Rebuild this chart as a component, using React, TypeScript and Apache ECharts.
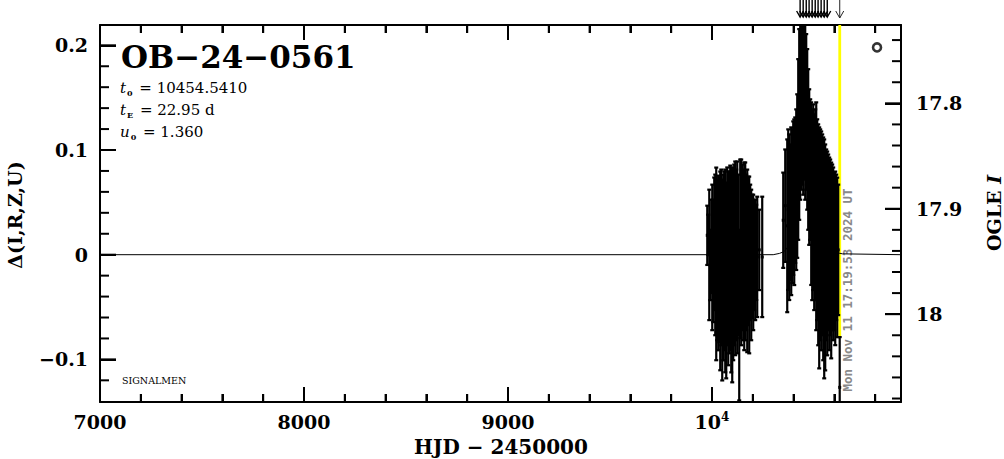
import React, { useEffect, useRef } from "react";
import * as echarts from "echarts";

// ---------- axis ranges ----------
const hjdMin = 7000;
const hjdMax = 10926.5;
const deltaMin = -0.1407;
const deltaMax = 0.2194;
const magTop = 17.7257;
const magBottom = 18.0833;

// ---------- tick positions ----------
const xMajorTicks = [7000, 8000, 9000, 10000];
const xMinorTicks = [7200, 7400, 7600, 7800, 8200, 8400, 8600, 8800, 9200, 9400, 9600, 9800, 10200, 10400, 10600, 10800];
const deltaMajorTicks = [-0.1, 0, 0.1, 0.2];
const deltaMinorTicks = [-0.12, -0.08, -0.06, -0.04, -0.02, 0.02, 0.04, 0.06, 0.08, 0.12, 0.14, 0.16, 0.18];
const magMajorTicks = [17.8, 17.9, 18.0];
const magMinorTicks = [17.74, 17.76, 17.78, 17.82, 17.84, 17.86, 17.88, 17.92, 17.94, 17.96, 17.98, 18.02, 18.04, 18.06, 18.08];

// ---------- texts ----------
const eventName = "OB\u221224\u22120561";
const paramLines = [
  "{i|t}{s|0} = 10454.5410",
  "{i|t}{s|E} = 22.95 d",
  "{i|u}{s|0} = 1.360",
];
const surveyTag = "SIGNALMEN";
const timestamp = "Mon Nov 11 17:19:53 2024 UT";
const xName = "HJD \u2212 2450000";
const yLeftName = "\u0394(I,R,Z,U)";

// ---------- observations (HJD-2450000, delta mag, error) ----------
const obsHjd = [
  // 2023/24 season
  9976.8, 9981.7, 9986.6, 9991.5, 9996.4, 10001.3, 10006.2, 10011.0, 10015.9, 10020.8,
  10025.7, 10030.6, 10035.5, 10040.4, 10045.3, 10050.2, 10055.1, 10060.0, 10064.9, 10069.8,
  10074.7, 10079.6, 10084.5, 10089.4, 10094.3, 10099.2, 10104.1, 10109.0, 10113.9, 10118.8,
  10123.7, 10128.6, 10133.5, 10138.4, 10143.3, 10148.2, 10153.1, 10158.0, 10162.9, 10167.8,
  10172.7, 10177.6, 10182.5, 10187.4, 10192.3, 10197.2, 10202.1, 10207.0, 10211.9, 10216.8,
  10221.7, 10231.5, 10246.2,
  // 2024 season
  10349.2, 10359.0, 10368.8, 10373.7, 10378.6, 10383.5, 10388.4, 10393.3, 10398.2, 10403.1,
  10408.0, 10412.9, 10417.8, 10422.7, 10427.6, 10432.5, 10437.4, 10442.3, 10447.2, 10452.1,
  10457.0, 10461.9, 10466.8, 10471.7, 10476.6, 10481.5, 10486.4, 10491.3, 10496.2, 10501.1,
  10506.0, 10510.9, 10515.8, 10520.7, 10525.6, 10530.5, 10535.4, 10540.3, 10545.2, 10550.1,
  10555.0, 10559.9, 10564.8, 10569.7, 10574.6, 10579.5, 10584.4, 10589.3, 10594.2, 10599.1,
  10604.0, 10608.9, 10613.8, 10618.7, 10626.0,
];
const obsDelta = [
  0.0185, 0.019, -0.0002, -0.0098, 0.008, -0.0026, -0.0059, 0.0104, -0.0002, -0.0088,
  -0.005, -0.0079, -0.005, -0.0155, -0.0026, -0.0242, -0.0122, -0.0059, -0.0155, -0.0246,
  -0.0016, -0.0131, -0.0074, -0.0031, -0.0146, -0.0203, -0.0088, -0.0002, -0.0035, -0.0002,
  -0.0026, -0.0002, -0.0577, 0.0056, 0.0022, 0.007, -0.0002, -0.0016, 0.0032, 0.0022,
  -0.0059, 0.0036, -0.0098, 0.0022, -0.0098, -0.0016, -0.0074, -0.0002, -0.005, 0.0022,
  -0.0021, 0.0046, -0.0021,
  0.0329, 0.0468, 0.0276, 0.043, 0.0358, 0.0406, 0.0415, 0.0463, 0.054, 0.0501,
  0.0616, 0.0621, 0.0751, 0.1005, 0.1244, 0.1412, 0.1412, 0.1508, 0.1412, 0.1556,
  0.1364, 0.1364, 0.1197, 0.1005, 0.0837, 0.0813, 0.0583, 0.0477, 0.0549, 0.0406,
  0.0477, 0.0367, 0.0334, 0.019, 0.0065, 0.019, 0.0132, 0.019, 0.0056, -0.004,
  -0.0026, 0.0094, 0.0012, 0.0118, 0.0008, 0.007, -0.0055, 0.007, 0.0008, 0.0032,
  -0.0035, 0.007, -0.0026, 0.0046, -0.1267,
];
const obsSigma = [
  0.0283, 0.0192, 0.0623, 0.0336, 0.0446, 0.0695, 0.0585, 0.0633, 0.0767, 0.092,
  0.0767, 0.0834, 0.0786, 0.0949, 0.0839, 0.0959, 0.0887, 0.0853, 0.0968, 0.0935,
  0.0849, 0.0925, 0.0868, 0.0882, 0.0978, 0.1016, 0.092, 0.0863, 0.0925, 0.0815,
  0.0916, 0.0767, 0.0815, 0.0853, 0.0887, 0.0791, 0.0815, 0.0896, 0.0849, 0.0743,
  0.0872, 0.0709, 0.0844, 0.0647, 0.0719, 0.059, 0.0647, 0.0527, 0.0575, 0.0455,
  0.0575, 0.0384, 0.0575,
  0.0455, 0.0537, 0.0825, 0.0767, 0.0791, 0.0647, 0.0801, 0.0733, 0.0733, 0.0791,
  0.0695, 0.0767, 0.0781, 0.0863, 0.0911, 0.0887, 0.0791, 0.0839, 0.0839, 0.0839,
  0.0839, 0.0743, 0.0767, 0.0767, 0.0743, 0.0671, 0.0872, 0.0911, 0.0887, 0.0935,
  0.0911, 0.1088, 0.0959, 0.1055, 0.1151, 0.1007, 0.1045, 0.0959, 0.1064, 0.1141,
  0.1079, 0.0911, 0.0973, 0.0839, 0.092, 0.0839, 0.0935, 0.0791, 0.0825, 0.0753,
  0.0829, 0.0695, 0.0762, 0.0623, 0.048,
];

// ---------- model curve ----------
const modelHjd = [7000, 10300, 10330, 10354, 10390, 10410, 10425, 10440, 10454.5, 10470, 10485, 10500, 10520, 10560, 10640, 10926.5];
const modelDelta = [0, 0, 0.0012, 0.003, 0.012, 0.03, 0.06, 0.1, 0.122, 0.1, 0.06, 0.03, 0.012, 0.004, 0.0008, 0];

// ---------- markers ----------
const alertHjd = [10432, 10447, 10462, 10476, 10491, 10506, 10520, 10535, 10550, 10565];
const nowHjd = 10626.2;
const openMarker = [10809, 0.198];

// ---------- styling ----------
const SERIF = "DejaVu Serif";
const BLACK = "#000";
const labelFont = { fontFamily: SERIF, fontWeight: "bold" as const, fontSize: 19, color: BLACK };
const MAJOR_LEN = 15;
const MINOR_LEN = 8;

const isTenth = (v: number) => Math.abs(v * 10 - Math.round(v * 10)) < 1e-6;

function fmtX(v: number) {
  if (Math.abs(v - Math.round(v / 1000) * 1000) > 1e-6) return "";
  if (Math.round(v) === 10000) return "{m|10}{s|4}";
  return "{m|" + Math.round(v) + "}";
}
function fmtDelta(v: number) {
  if (!isTenth(v)) return "";
  const r = Math.round(v * 10) / 10;
  if (r === 0) return "0";
  return (r < 0 ? "\u2212" : "") + Math.abs(r).toString();
}
function fmtMag(v: number) {
  if (!isTenth(v)) return "";
  const r = Math.round(v * 10) / 10;
  return Number.isInteger(r) ? String(r) : r.toFixed(1);
}

function textGraphics(): any[] {
  return [
    {
      type: "text",
      silent: true,
      x: 121,
      y: 57,
      style: {
        text: eventName,
        fill: BLACK,
        fontFamily: SERIF,
        fontWeight: "bold",
        fontSize: 31,
        align: "left",
        verticalAlign: "middle",
      },
    },
    ...paramLines.map((line, i) => ({
      type: "text",
      silent: true,
      x: 120,
      y: 88 + i * 22,
      style: {
        text: line,
        fill: BLACK,
        fontFamily: SERIF,
        fontSize: 15,
        align: "left",
        verticalAlign: "middle",
        rich: {
          i: { fontFamily: SERIF, fontSize: 15, fontStyle: "italic", fill: BLACK, lineHeight: 18 },
          s: { fontFamily: SERIF, fontSize: 8, fontWeight: "bold", fill: BLACK, lineHeight: 18, verticalAlign: "bottom", padding: [0, 2, 0, 1] },
        },
      },
    })),
    {
      type: "text",
      silent: true,
      x: 122,
      y: 380,
      style: { text: surveyTag, fill: BLACK, fontFamily: SERIF, fontSize: 9.5, align: "left", verticalAlign: "middle" },
    },
    {
      type: "text",
      silent: true,
      x: 501,
      y: 447,
      style: { text: xName, fill: BLACK, fontFamily: SERIF, fontWeight: "bold", fontSize: 20, align: "center", verticalAlign: "middle" },
    },
    {
      type: "text",
      silent: true,
      x: 15,
      y: 215,
      rotation: Math.PI / 2,
      style: { text: yLeftName, fill: BLACK, fontFamily: SERIF, fontWeight: "bold", fontSize: 19, align: "center", verticalAlign: "middle" },
    },
    {
      type: "text",
      silent: true,
      x: 994,
      y: 213,
      rotation: Math.PI / 2,
      style: {
        text: "{n|OGLE }{i|I}",
        fill: BLACK,
        align: "center",
        verticalAlign: "middle",
        rich: {
          n: { fontFamily: SERIF, fontWeight: "bold", fontSize: 19, fill: BLACK },
          i: { fontFamily: SERIF, fontWeight: "bold", fontStyle: "italic", fontSize: 19, fill: BLACK },
        },
      },
    },
    {
      type: "text",
      silent: true,
      x: 847,
      y: 290,
      rotation: Math.PI / 2,
      style: {
        text: timestamp,
        fill: "#8a8a8a",
        fontFamily: "DejaVu Sans Mono",
        fontWeight: "bold",
        fontSize: 12.5,
        align: "center",
        verticalAlign: "middle",
      },
    },
  ];
}

function buildOption(): any {
  const obsData = obsHjd.map((t, i) => [t, obsDelta[i], obsSigma[i]]);
  const modelData = modelHjd.map((t, i) => [t, modelDelta[i]]);
  const lastTop = obsDelta[obsDelta.length - 1] + obsSigma[obsSigma.length - 1];

  const mkLine = () => ({ show: true, onZero: false, lineStyle: { color: BLACK, width: 2 } });
  const mkTick = (len: number) => ({ show: true, inside: true, length: len, lineStyle: { color: BLACK, width: 2 } });

  const xBase = () => ({
    type: "value",
    gridIndex: 0,
    min: hjdMin,
    max: hjdMax,
    interval: 1000,
    axisLine: mkLine(),
    axisTick: mkTick(MAJOR_LEN),
    minorTick: { show: true, splitNumber: 5, length: MINOR_LEN, lineStyle: { color: BLACK, width: 2 } },
    splitLine: { show: false },
  });

  return {
    animation: false,
    backgroundColor: "#fff",
    textStyle: { fontFamily: SERIF },
    grid: { left: 100, top: 25, width: 801, height: 377, containLabel: false },
    xAxis: [
      {
        ...xBase(),
        position: "bottom",
        axisLabel: {
          margin: 9,
          showMaxLabel: false,
          formatter: fmtX,
          rich: {
            m: { ...labelFont, lineHeight: 22 },
            s: { ...labelFont, fontSize: 12, lineHeight: 14, verticalAlign: "top" },
          },
        },
      },
      { ...xBase(), position: "top", axisLabel: { show: false } },
    ],
    yAxis: [
      {
        type: "value",
        position: "left",
        min: deltaMin,
        max: deltaMax,
        minInterval: 0.1,
        maxInterval: 0.1,
        splitNumber: 4,
        axisLine: mkLine(),
        axisTick: mkTick(MAJOR_LEN + 1),
        minorTick: { show: false },
        splitLine: { show: false },
        axisLabel: { ...labelFont, margin: 12, formatter: fmtDelta, showMinLabel: false, showMaxLabel: false },
      },
      {
        type: "value",
        position: "right",
        inverse: true,
        min: magTop,
        max: magBottom,
        minInterval: 0.1,
        maxInterval: 0.1,
        splitNumber: 4,
        axisLine: mkLine(),
        axisTick: mkTick(MAJOR_LEN + 1),
        minorTick: { show: false },
        splitLine: { show: false },
        axisLabel: { ...labelFont, margin: 15, formatter: fmtMag, showMinLabel: false, showMaxLabel: false },
      },
    ],
    series: [
      {
        type: "custom",
        name: "now",
        silent: true,
        z: 1,
        clip: true,
        data: [[nowHjd, lastTop]],
        renderItem: (_p: any, api: any) => {
          const t = api.value(0);
          const a = api.coord([t, deltaMax]);
          const b = api.coord([t, api.value(1)]);
          return {
            type: "line",
            shape: { x1: a[0], y1: a[1], x2: b[0], y2: b[1] },
            style: { stroke: "#ffff00", lineWidth: 2.8 },
          };
        },
      },
      {
        type: "line",
        name: "model",
        silent: true,
        z: 2,
        data: modelData,
        showSymbol: false,
        symbol: "none",
        clip: true,
        lineStyle: { color: BLACK, width: 1 },
      },
      {
        type: "custom",
        name: "obs",
        silent: true,
        z: 3,
        clip: true,
        data: obsData,
        renderItem: (_p: any, api: any) => {
          const t = api.value(0);
          const d = api.value(1);
          const s = api.value(2);
          const hi = api.coord([t, d + s]);
          const lo = api.coord([t, d - s]);
          const mid = api.coord([t, d]);
          const st = { stroke: BLACK, lineWidth: 2.2 };
          return {
            type: "group",
            children: [
              { type: "line", shape: { x1: hi[0], y1: hi[1], x2: lo[0], y2: lo[1] }, style: st },
              { type: "line", shape: { x1: hi[0] - 2, y1: hi[1], x2: hi[0] + 2, y2: hi[1] }, style: st },
              { type: "line", shape: { x1: lo[0] - 2, y1: lo[1], x2: lo[0] + 2, y2: lo[1] }, style: st },
              { type: "rect", shape: { x: mid[0] - 1.5, y: mid[1] - 1.5, width: 3, height: 3 }, style: { fill: BLACK } },
            ],
          };
        },
      },
      {
        type: "scatter",
        name: "marker",
        silent: true,
        z: 4,
        data: [openMarker],
        symbol: "circle",
        symbolSize: 8,
        itemStyle: { color: "#fff", borderColor: BLACK, borderWidth: 2.6 },
      },
      {
        type: "custom",
        name: "alerts",
        silent: true,
        z: 5,
        clip: false,
        data: alertHjd.map((t) => [t, deltaMax]),
        renderItem: (_p: any, api: any) => {
          const p = api.coord([api.value(0), deltaMax]);
          const x = p[0];
          const y = p[1];
          const st = { stroke: BLACK, lineWidth: 1.4, fill: "none" };
          return {
            type: "group",
            children: [
              { type: "line", shape: { x1: x, y1: y - 26, x2: x, y2: y - 8 }, style: st },
              { type: "polyline", shape: { points: [[x - 3.5, y - 14], [x, y - 8], [x + 3.5, y - 14]] }, style: st },
            ],
          };
        },
      },
      {
        type: "custom",
        name: "nowArrow",
        silent: true,
        z: 5,
        clip: false,
        data: [[nowHjd, deltaMax]],
        renderItem: (_p: any, api: any) => {
          const p = api.coord([api.value(0), deltaMax]);
          const x = p[0];
          const y = p[1];
          const st = { stroke: "#222", lineWidth: 1, fill: "none" };
          return {
            type: "group",
            children: [
              { type: "line", shape: { x1: x, y1: y - 26, x2: x, y2: y - 7 }, style: st },
              { type: "polyline", shape: { points: [[x - 4, y - 14], [x, y - 7], [x + 4, y - 14]] }, style: st },
            ],
          };
        },
      },
    ],
    graphic: textGraphics(),
  };
}

// minor/major tick marks placed through the chart's own axis scales
function tickGraphics(chart: any): any[] {
  const out: any[] = [];
  const line = (x1: number, y1: number, x2: number, y2: number) => ({
    type: "line",
    silent: true,
    z: 20,
    shape: { x1, y1, x2, y2 },
    style: { stroke: BLACK, lineWidth: 2 },
  });
  const toPx = (yAxisIndex: number, pt: number[]) =>
    chart.convertToPixel({ xAxisIndex: 0, yAxisIndex }, pt) as number[];

  const xTicks: [number, number][] = [
    ...xMajorTicks.map((v) => [v, MAJOR_LEN] as [number, number]),
    ...xMinorTicks.map((v) => [v, MINOR_LEN] as [number, number]),
  ];
  xTicks.forEach(([v, len]) => {
    const b = toPx(0, [v, deltaMin]);
    const t = toPx(0, [v, deltaMax]);
    if (b && t) {
      out.push(line(b[0], b[1], b[0], b[1] - len));
      out.push(line(t[0], t[1], t[0], t[1] + len));
    }
  });
  const dTicks: [number, number][] = [
    ...deltaMajorTicks.map((v) => [v, MAJOR_LEN + 1] as [number, number]),
    ...deltaMinorTicks.map((v) => [v, MINOR_LEN + 1] as [number, number]),
  ];
  dTicks.forEach(([v, len]) => {
    const p = toPx(0, [hjdMin, v]);
    if (p) out.push(line(p[0], p[1], p[0] + len, p[1]));
  });
  const mTicks: [number, number][] = [
    ...magMajorTicks.map((v) => [v, MAJOR_LEN + 1] as [number, number]),
    ...magMinorTicks.map((v) => [v, MINOR_LEN + 1] as [number, number]),
  ];
  mTicks.forEach(([v, len]) => {
    let p: number[] | null = null;
    try {
      p = toPx(1, [hjdMax, v]);
    } catch (e) {
      p = null;
    }
    if (p) out.push(line(p[0], p[1], p[0] - len, p[1]));
  });
  return out;
}

export default function App() {
  const ref = useRef<HTMLDivElement>(null);
  useEffect(() => {
    if (!ref.current) return;
    const chart = echarts.init(ref.current, undefined, { renderer: "svg" });
    chart.setOption(buildOption());
    let ticks: any[] = [];
    try {
      ticks = tickGraphics(chart);
    } catch (e) {
      ticks = [];
    }
    chart.setOption({ graphic: [...textGraphics(), ...ticks] });
    return () => chart.dispose();
  }, []);
  return (
    <div
      ref={ref}
      style={{ position: "fixed", left: 0, top: 0, width: 1004, height: 459, background: "#fff" }}
    />
  );
}
